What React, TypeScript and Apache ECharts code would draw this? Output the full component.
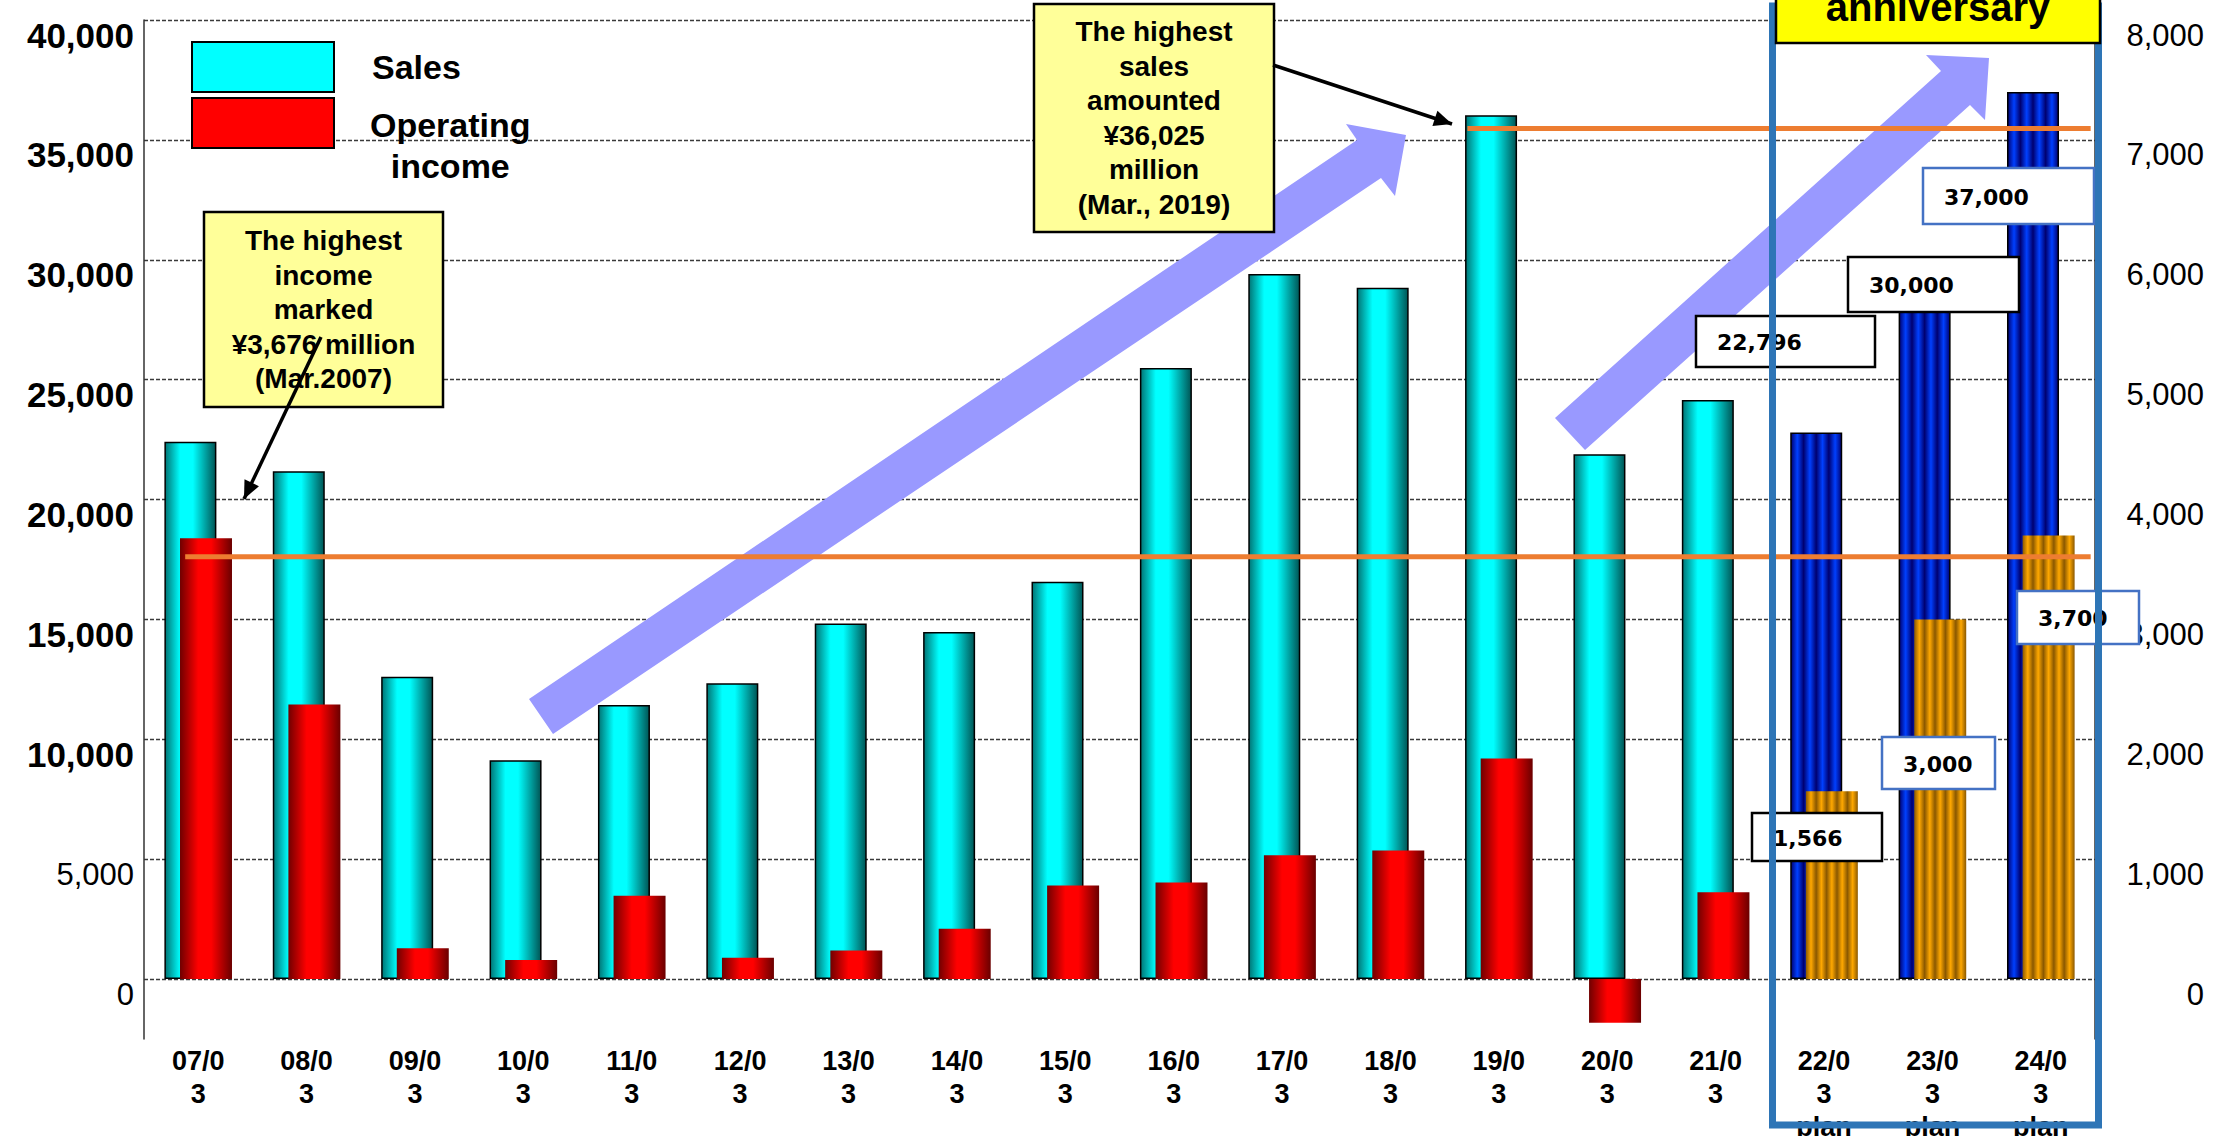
import React, { useEffect, useRef } from 'react';
import * as echarts from 'echarts';

// Fiscal years ending in March; the last three are plan figures
const categories = [
  '07/03', '08/03', '09/03', '10/03', '11/03', '12/03', '13/03', '14/03', '15/03',
  '16/03', '17/03', '18/03', '19/03', '20/03', '21/03', '22/03 plan', '23/03 plan', '24/03 plan',
];

// Sales, ¥ million (results, then plan)
const salesActual = [22410, 21180, 12610, 9130, 11430, 12340, 14830, 14480, 16570, 25490, 29410, 28830, 36025, 21890, 24150];
const salesPlan = [22796, 30000, 37000];

// Operating income, ¥ million (results, then plan)
const incomeActual = [3676, 2290, 258, 158, 695, 178, 238, 420, 781, 805, 1032, 1072, 1840, -364, 725];
const incomePlan = [1566, 3000, 3700];

// Axis scales and labelled ticks
const salesAxisMin = -2500;
const salesAxisMax = 40000;
const salesAxisStep = 2500;
const salesTickLabels = [0, 5000, 10000, 15000, 20000, 25000, 30000, 35000, 40000];
const incomeAxisMin = -500;
const incomeAxisMax = 8000;
const incomeAxisStep = 500;
const incomeTickLabels = [0, 1000, 2000, 3000, 4000, 5000, 6000, 7000, 8000];

// Record-level guide lines: level, and span in category slots
const salesRecordLevel = 35470;
const salesRecordSpan = [12.21, 17.96];
const incomeRecordLevel = 3523;
const incomeRecordSpan = [0.38, 17.96];

const fmt = (v: number) => v.toLocaleString('en-US');

const LATIN = '"Liberation Sans", Arial, sans-serif';
const VERDANA = '"DejaVu Sans", Verdana, sans-serif';

function hGradient(stops: [number, string][]) {
  return new echarts.graphic.LinearGradient(0, 0, 1, 0, stops.map(([offset, color]) => ({ offset, color })));
}

function stripes(dark: string, light: string, cycles: number) {
  const stops: [number, string][] = [];
  const n = cycles * 2;
  for (let k = 0; k <= n; k++) stops.push([k / n, k % 2 === 0 ? dark : light]);
  return hGradient(stops);
}

function arrowHead(x1: number, y1: number, x2: number, y2: number, len: number, half: number) {
  const L = Math.hypot(x2 - x1, y2 - y1);
  const ux = (x2 - x1) / L;
  const uy = (y2 - y1) / L;
  const bx = x2 - ux * len;
  const by = y2 - uy * len;
  return [[x2, y2], [bx - uy * half, by + ux * half], [bx + uy * half, by - ux * half]];
}

// Decorative trend arrows (pixel outlines)
const trendArrows = [
  [[529, 699], [1357, 140], [1346, 124], [1406, 135], [1395, 196], [1381, 178], [553, 734]],
  [[1555, 418], [1941, 71], [1926, 55], [1989, 58], [1985, 120], [1970, 105], [1585, 450]],
];

// Callout boxes with pointer arrows
const callouts = [
  {
    box: [204, 212, 239, 195],
    lines: ['The highest', 'income', 'marked', `¥${fmt(incomeActual[0])} million`, '(Mar.2007)'],
    arrow: [321, 337, 244, 499],
  },
  {
    box: [1034, 4, 240, 228],
    lines: ['The highest', 'sales', 'amounted', `¥${fmt(salesActual[12])}`, 'million', '(Mar., 2019)'],
    arrow: [1273, 65, 1452, 124],
  },
];

// Value tag boxes for the plan years
const salesPlanBoxes = [
  { x: 1696, y: 316, w: 179, h: 51, border: '#000000' },
  { x: 1848, y: 257, w: 171, h: 55, border: '#000000' },
  { x: 1923, y: 168, w: 171, h: 56, border: '#4472c4' },
];
const incomePlanBoxes = [
  { x: 1752, y: 813, w: 130, h: 48, border: '#000000' },
  { x: 1882, y: 737, w: 113, h: 52, border: '#4472c4' },
  { x: 2017, y: 591, w: 122, h: 53, border: '#4472c4' },
];

function buildGraphic() {
  const els: any[] = [];

  trendArrows.forEach((pts) => {
    els.push({ type: 'polygon', z: 1, silent: true, shape: { points: pts }, style: { fill: '#9999ff' } });
  });

  callouts.forEach((c) => {
    const [x, y, w, h] = c.box;
    els.push({
      type: 'rect', z: 10, silent: true,
      shape: { x, y, width: w, height: h },
      style: { fill: '#ffff99', stroke: '#000', lineWidth: 2.5 },
    });
    els.push({
      type: 'text', z: 11, silent: true,
      style: {
        text: c.lines.join('\n'),
        x: x + w / 2, y: y + h / 2,
        font: `bold 28px ${LATIN}`,
        lineHeight: 34.5,
        fill: '#000',
        textAlign: 'center', align: 'center',
        textVerticalAlign: 'middle', verticalAlign: 'middle',
      },
    });
    const [x1, y1, x2, y2] = c.arrow;
    els.push({
      type: 'line', z: 12, silent: true,
      shape: { x1, y1, x2, y2 },
      style: { stroke: '#000', lineWidth: 3.5 },
    });
    els.push({
      type: 'polygon', z: 12, silent: true,
      shape: { points: arrowHead(x1, y1, x2, y2, 18, 8) },
      style: { fill: '#000' },
    });
  });

  const tag = (b: { x: number; y: number; w: number; h: number; border: string }, value: number) => {
    els.push({
      type: 'rect', z: 10, silent: true,
      shape: { x: b.x, y: b.y, width: b.w, height: b.h },
      style: { fill: '#fff', stroke: b.border, lineWidth: 2.5 },
    });
    els.push({
      type: 'text', z: 11, silent: true,
      style: {
        text: fmt(value),
        x: b.x + 21, y: b.y + b.h / 2 + 1,
        font: `bold 22px ${VERDANA}`,
        fill: '#000',
        textAlign: 'left', align: 'left',
        textVerticalAlign: 'middle', verticalAlign: 'middle',
      },
    });
  };
  salesPlan.forEach((v, i) => tag(salesPlanBoxes[i], v));
  incomePlan.forEach((v, i) => tag(incomePlanBoxes[i], v));

  // Frame around the plan years
  els.push({
    type: 'rect', z: 20, silent: true,
    shape: { x: 1772.5, y: 6, width: 326, height: 1119 },
    style: { fill: 'none', stroke: '#2e75b6', lineWidth: 7 },
  });

  // Anniversary banner
  els.push({
    type: 'rect', z: 30, silent: true,
    shape: { x: 1776, y: -20, width: 324, height: 63 },
    style: { fill: '#ffff00', stroke: '#000', lineWidth: 2.5 },
  });
  els.push({
    type: 'text', z: 31, silent: true,
    style: {
      text: 'anniversary',
      x: 1938, y: 7,
      font: `bold 40px ${LATIN}`,
      fill: '#000',
      textAlign: 'center', align: 'center',
      textVerticalAlign: 'middle', verticalAlign: 'middle',
    },
  });

  return els;
}

function buildOption() {
  const cyan = hGradient([[0, '#007575'], [0.3, '#00ffff'], [0.55, '#00ffff'], [1, '#005555']]);
  const red = hGradient([[0, '#700000'], [0.35, '#ff0000'], [0.6, '#ff0000'], [1, '#6a0000']]);
  const blueStripes = stripes('#000070', '#0040ff', 4);
  const orangeStripes = stripes('#8a5800', '#ffa800', 5);

  const salesData = [
    ...salesActual,
    ...salesPlan.map((v) => ({ value: v, itemStyle: { color: blueStripes, borderColor: '#000', borderWidth: 1.5 } })),
  ];
  const incomeData = [
    ...incomeActual,
    ...incomePlan.map((v) => ({ value: v, itemStyle: { color: orangeStripes } })),
  ];

  return {
    animation: false,
    backgroundColor: '#ffffff',
    grid: { left: 144, right: 139, top: 20, bottom: 97, containLabel: false, outerBoundsMode: 'none' },
    legend: [
      {
        data: [{ name: 'Sales', itemStyle: { color: '#00ffff', borderColor: '#000', borderWidth: 2 } }],
        left: 191, top: 41, orient: 'vertical', padding: 0,
        itemWidth: 142, itemHeight: 50, icon: 'rect', selectedMode: false,
        textStyle: { fontFamily: LATIN, fontWeight: 'bold', fontSize: 34, color: '#000', padding: [8, 0, 0, 33] },
      },
      {
        data: [{ name: 'Operating income', itemStyle: { color: '#ff0000', borderColor: '#000', borderWidth: 2 } }],
        left: 191, top: 97, orient: 'vertical', padding: 0,
        itemWidth: 142, itemHeight: 50, icon: 'rect', selectedMode: false,
        formatter: () => '{o|Operating}\n{o|income}',
        textStyle: {
          padding: [45, 0, 0, 31],
          rich: { o: { fontFamily: LATIN, fontWeight: 'bold', fontSize: 34, lineHeight: 41, align: 'center', color: '#000' } },
        },
      },
    ],
    xAxis: [
      {
        type: 'category',
        data: categories,
        axisLine: { show: false },
        axisTick: { show: false },
        splitLine: { show: false },
        axisLabel: {
          interval: 0,
          margin: 5,
          color: '#000',
          fontFamily: LATIN,
          fontWeight: 'bold',
          fontSize: 27,
          lineHeight: 33,
          formatter: (v: string) => {
            const [ym, note] = v.split(' ');
            return ym.slice(0, 4) + '\n' + ym.slice(4) + (note ? '\n' + note : '');
          },
        },
      },
      { type: 'value', min: 0, max: categories.length, show: false },
    ],
    yAxis: [
      {
        type: 'value',
        position: 'left',
        min: salesAxisMin,
        max: salesAxisMax,
        interval: salesAxisStep,
        axisLine: { show: true, lineStyle: { color: '#333', width: 1.5 } },
        axisTick: { show: false },
        splitLine: {
          show: true,
          // every other line (the 2,500 steps) is left invisible
          lineStyle: { color: ['rgba(0,0,0,0)', '#3a3a3a'], width: 1.3, type: [4, 2] },
        },
        axisLabel: {
          customValues: salesTickLabels,
          margin: 10,
          padding: [30, 0, 0, 0],
          align: 'right',
          formatter: (v: number) => (v >= 10000 ? `{b|${fmt(v)}}` : `{r|${fmt(v)}}`),
          rich: {
            b: { fontFamily: LATIN, fontWeight: 'bold', fontSize: 35, color: '#000' },
            r: { fontFamily: LATIN, fontWeight: 'normal', fontSize: 31, color: '#000' },
          },
        },
      },
      {
        type: 'value',
        position: 'right',
        min: incomeAxisMin,
        max: incomeAxisMax,
        interval: incomeAxisStep,
        axisLine: { show: true, lineStyle: { color: '#333', width: 1.5 } },
        axisTick: { show: false },
        splitLine: { show: false },
        axisLabel: {
          customValues: incomeTickLabels,
          margin: 109,
          padding: [30, 0, 0, 0],
          align: 'right',
          formatter: (v: number) => `{r|${fmt(v)}}`,
          rich: {
            r: { fontFamily: LATIN, fontWeight: 'normal', fontSize: 31, color: '#000' },
          },
        },
      },
    ],
    series: [
      {
        name: 'Sales',
        type: 'bar',
        xAxisIndex: 0,
        yAxisIndex: 0,
        barWidth: 52,
        barGap: '-70%',
        z: 2,
        itemStyle: { color: cyan, borderColor: '#000', borderWidth: 1.5 },
        data: salesData,
      },
      {
        name: 'Operating income',
        type: 'bar',
        xAxisIndex: 0,
        yAxisIndex: 1,
        barWidth: 52,
        barGap: '-70%',
        z: 3,
        itemStyle: { color: red, borderWidth: 0 },
        data: incomeData,
      },
      {
        name: 'Sales record',
        type: 'line',
        xAxisIndex: 1,
        yAxisIndex: 0,
        symbol: 'none',
        silent: true,
        z: 5,
        lineStyle: { color: '#ed7d31', width: 5 },
        data: salesRecordSpan.map((x) => [x, salesRecordLevel]),
      },
      {
        name: 'Income record',
        type: 'line',
        xAxisIndex: 1,
        yAxisIndex: 1,
        symbol: 'none',
        silent: true,
        z: 5,
        lineStyle: { color: '#ed7d31', width: 5 },
        data: incomeRecordSpan.map((x) => [x, incomeRecordLevel]),
      },
    ],
    graphic: { elements: buildGraphic() },
  };
}

export default function App() {
  const ref = useRef<HTMLDivElement>(null);

  useEffect(() => {
    document.body.style.margin = '0';
    const chart = echarts.init(ref.current!, null, { renderer: 'svg' });
    chart.setOption(buildOption() as any);
    return () => chart.dispose();
  }, []);

  return <div ref={ref} style={{ width: 2234, height: 1136, overflow: 'hidden' }} />;
}
